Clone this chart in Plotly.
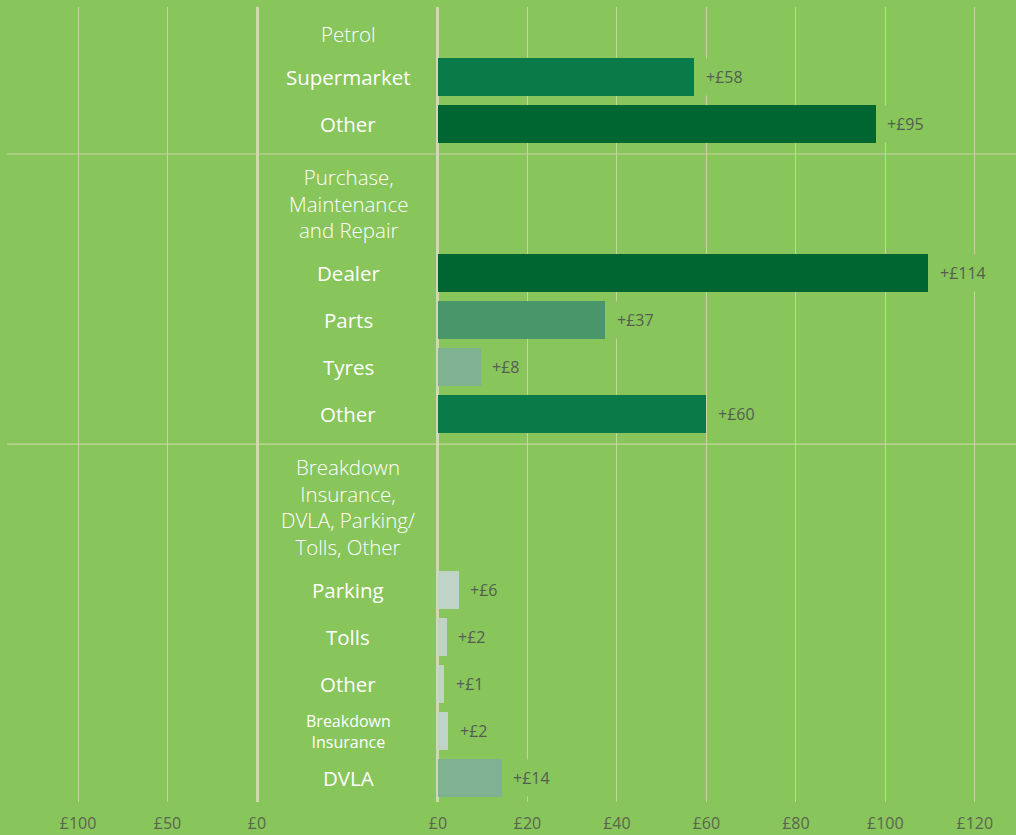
import plotly.graph_objects as go

# ---------------- data ----------------
groups = [
    "Petrol",
    "Purchase,<br>Maintenance<br>and Repair",
    "Breakdown<br>Insurance,<br>DVLA, Parking/<br>Tolls, Other",
]
items = [
    ["Supermarket", "Other"],
    ["Dealer", "Parts", "Tyres", "Other"],
    ["Parking", "Tolls", "Other", "Breakdown<br>Insurance", "DVLA"],
]
# bar lengths as drawn in the picture (£)
values = [
    [57.2, 97.7],
    [109.5, 37.3, 9.4, 59.9],
    [4.5, 1.8, 1.3, 2.2, 14.1],
]
# printed value labels
value_labels = [
    ["+£58", "+£95"],
    ["+£114", "+£37", "+£8", "+£60"],
    ["+£6", "+£2", "+£1", "+£2", "+£14"],
]
right_ticks = [0, 20, 40, 60, 80, 100, 120]
left_ticks = [0, 50, 100]

# ---------------- styles ----------------
bar_colors = [
    ["#0a7a48", "#006631"],
    ["#006631", "#4a966b", "#7fb291", "#0a7a48"],
    ["#bfd4c6", "#bfd4c6", "#bfd4c6", "#bfd4c6", "#7fb291"],
]
BG = "#88c55b"
GRID = "#c8d4a0"
ZERO = "#d2d9ae"
TICK_COL = "#5a6650"
VAL_COL = "#545e50"
FONT = "Open Sans"

W, H = 1016, 835
TOP, BOTTOM = 7, 802  # plot area in pixels

# ---------------- row layout (pixel units on the y axis) ----------------
LH, HEAD_GAP, PITCH, SEP_GAP, AFTER_SEP = 26.8, 43, 47, 30, 22.5
y = 34
header_pos, item_pos, seps = [], [], []
for g, its in zip(groups, items):
    n = g.count("<br>") + 1
    header_pos.append(y + (n - 1) * LH / 2)
    first = y + (n - 1) * LH + HEAD_GAP
    pos = [first + k * PITCH for k in range(len(its))]
    item_pos.append(pos)
    sep = pos[-1] + SEP_GAP
    seps.append(sep)
    y = sep + AFTER_SEP
seps = seps[:-1]

flat_y = [p for grp in item_pos for p in grp]
flat_x = [v for grp in values for v in grp]
flat_c = [c for grp in bar_colors for c in grp]
flat_lab = [l for grp in value_labels for l in grp]
flat_items = [i for grp in items for i in grp]

fig = go.Figure()
fig.add_trace(go.Bar(
    x=flat_x, y=flat_y, orientation="h", width=38,
    marker=dict(color=flat_c, line=dict(width=0)),
    xaxis="x", yaxis="y", showlegend=False, hoverinfo="skip",
))
fig.add_trace(go.Scatter(x=[None], y=[None], xaxis="x2", yaxis="y",
                         showlegend=False, hoverinfo="skip"))

annotations = []
mid_x = 348 / W
for g, yp in zip(groups, header_pos):
    annotations.append(dict(
        x=mid_x, y=yp, xref="paper", yref="y", text=g, showarrow=False,
        xanchor="center", yanchor="middle", align="center",
        font=dict(family=FONT, size=20.5, color="white", weight=300),
    ))
for name, yp in zip(flat_items, flat_y):
    small = "<br>" in name
    annotations.append(dict(
        x=mid_x, y=yp, xref="paper", yref="y", text=name, showarrow=False,
        xanchor="center", yanchor="middle", align="center",
        font=dict(family=FONT, size=16 if small else 20.5, color="white", weight=500),
    ))
for v, yp, lab in zip(flat_x, flat_y, flat_lab):
    annotations.append(dict(
        x=v, y=yp, xref="x", yref="y", text=lab, showarrow=False,
        xanchor="left", yanchor="middle", xshift=4,
        bgcolor=BG, borderpad=7,
        font=dict(family=FONT, size=16, color=VAL_COL),
    ))

shapes = [dict(type="line", xref="paper", yref="y", x0=7 / W, x1=1, y0=s, y1=s,
               line=dict(color=GRID, width=1.2), layer="below") for s in seps]

axis_common = dict(
    showgrid=True, gridcolor=GRID, gridwidth=1.2,
    zeroline=True, zerolinecolor=ZERO, zerolinewidth=3,
    showline=False, ticks="", ticklabelstandoff=10, automargin=False,
    tickfont=dict(family=FONT, size=16, color=TICK_COL),
    fixedrange=True,
)

fig.update_layout(
    width=W, height=H, autosize=False,
    margin=dict(l=0, r=0, t=TOP, b=H - BOTTOM, pad=0, autoexpand=False),
    paper_bgcolor=BG, plot_bgcolor=BG,
    xaxis=dict(domain=[433.5 / W, 1], range=[-1, 129.2], tickvals=right_ticks,
               ticktext=["£%d" % t for t in right_ticks], anchor="y", **axis_common),
    xaxis2=dict(domain=[0, 258.8 / W], range=[143.6, -1], tickvals=left_ticks,
                ticktext=["£%d" % t for t in left_ticks], anchor="y", **axis_common),
    yaxis=dict(range=[BOTTOM, TOP], visible=False, fixedrange=True),
    annotations=annotations,
    shapes=shapes,
    bargap=0,
)

fig.write_html("out.html")
